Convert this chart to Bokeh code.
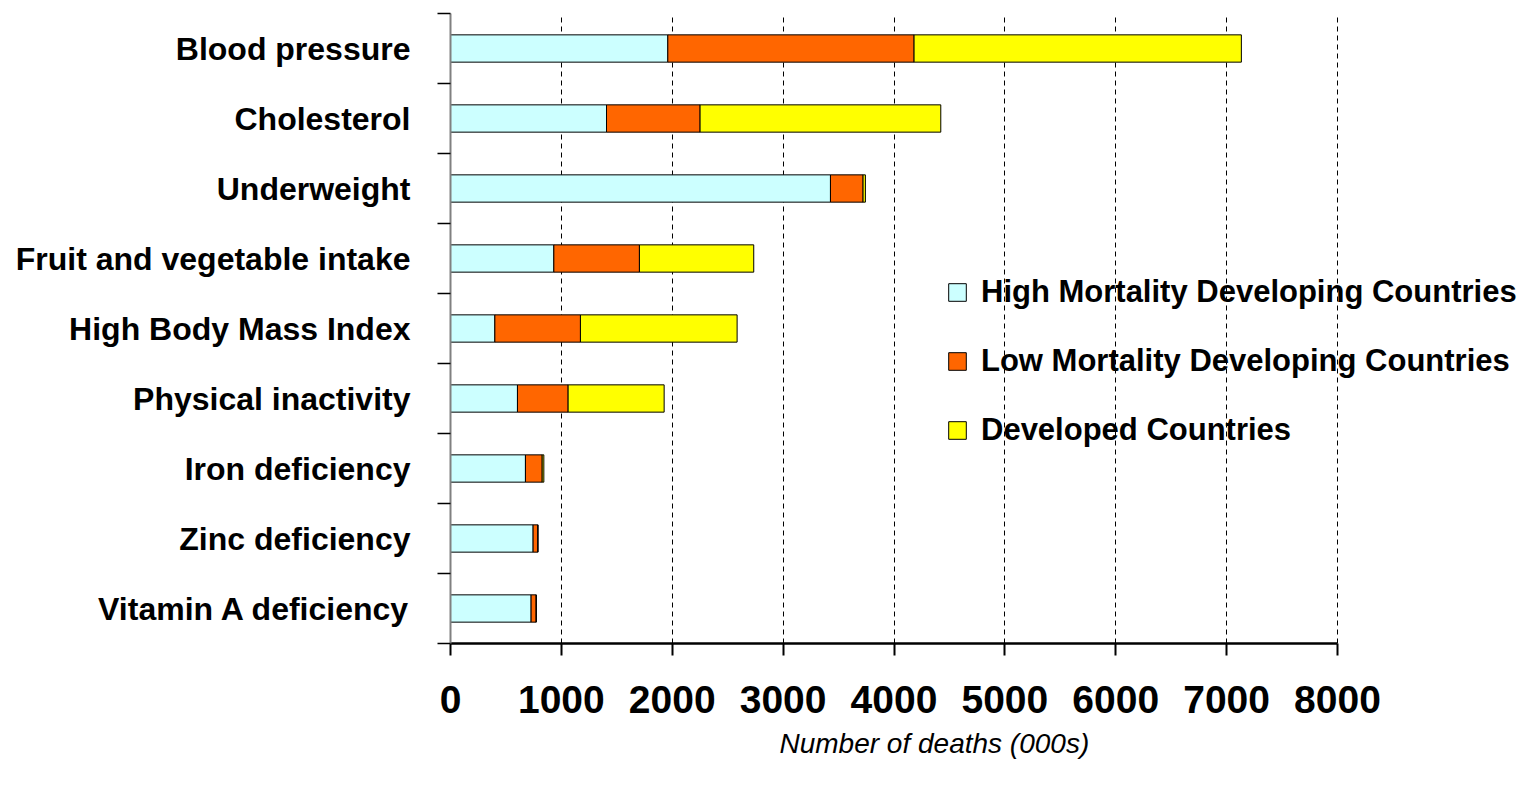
from bokeh.plotting import figure
from bokeh.models import ColumnDataSource, FixedTicker, Range1d, Legend, LegendItem, Title
from bokeh.embed import file_html
from bokeh.resources import INLINE

categories = ["Blood pressure", "Cholesterol", "Underweight", "Fruit and vegetable intake",
              "High Body Mass Index", "Physical inactivity", "Iron deficiency",
              "Zinc deficiency", "Vitamin A deficiency"]
high_mortality = [1960, 1407, 3427, 932, 400, 604, 676, 745, 727]
low_mortality = [2221, 844, 294, 772, 772, 457, 151, 43, 46]
developed = [2952, 2171, 21, 1031, 1413, 866, 15, 0, 0]
series_names = ["High Mortality Developing Countries", "Low Mortality Developing Countries",
                "Developed Countries"]
x_ticks = [0, 1000, 2000, 3000, 4000, 5000, 6000, 7000, 8000]
x_title = "Number of deaths (000s)"

colors = ["#CCFFFF", "#FF6600", "#FFFF00"]
FONT = "'Liberation Sans', Arial, sans-serif"

W, H = 1521, 771
LEFT, TOP = 450, 13
FRAME_BOTTOM = 643
BOTTOM = H - FRAME_BOTTOM
XMAX = 8000
px_per_unit = 887 / XMAX
x_end = (W - LEFT) / px_per_unit

n = len(categories)
ypos = [n - 0.5 - i for i in range(n)]
src = ColumnDataSource(dict(y=ypos, hm=high_mortality, lm=low_mortality, dev=developed))

p = figure(width=W, height=H, output_backend="svg", toolbar_location=None,
           x_range=Range1d(0, x_end), y_range=Range1d(0, n),
           min_border_left=LEFT, min_border_right=0, min_border_top=TOP,
           min_border_bottom=BOTTOM)
p.outline_line_color = None
p.background_fill_color = "white"
p.border_fill_color = "white"

rs = p.hbar_stack(["hm", "lm", "dev"], y="y", height=0.39, source=src,
                  fill_color=colors, line_color="black", line_width=1)

# grid
p.ygrid.grid_line_color = None
p.xgrid.ticker = FixedTicker(ticks=x_ticks)
p.xgrid.grid_line_color = "black"
p.xgrid.grid_line_dash = "5 4"
p.xgrid.grid_line_width = 1

# x axis
xa = p.xaxis[0]
xa.ticker = FixedTicker(ticks=x_ticks)
xa.bounds = (0, XMAX)
xa.axis_line_color = "black"
xa.axis_line_width = 2.5
xa.major_tick_line_color = "black"
xa.major_tick_line_width = 2
xa.major_tick_out = 12
xa.major_tick_in = 0
xa.minor_tick_line_color = None
xa.major_label_text_font = FONT
xa.major_label_text_font_style = "bold"
xa.major_label_text_font_size = "39px"
xa.major_label_text_color = "black"
xa.major_label_standoff = 30

# y axis
ya = p.yaxis[0]
ya.ticker = FixedTicker(ticks=ypos, minor_ticks=list(range(n + 1)))
ya.major_label_overrides = {y: c for y, c in zip(ypos, categories)}
ya.axis_line_color = "#808080"
ya.axis_line_width = 2
ya.major_tick_line_color = None
ya.major_tick_out = 0
ya.major_tick_in = 0
ya.minor_tick_line_color = "black"
ya.minor_tick_line_width = 1.5
ya.minor_tick_out = 13
ya.minor_tick_in = 0
ya.major_label_text_font = FONT
ya.major_label_text_font_style = "bold"
ya.major_label_text_font_size = "32px"
ya.major_label_text_color = "black"
ya.major_label_standoff = 27

# legend
legend = Legend(items=[LegendItem(label=nm, renderers=[r]) for nm, r in zip(series_names, rs)],
                location=(496, 193), orientation="vertical",
                glyph_width=22, glyph_height=22, label_standoff=13,
                label_text_font=FONT, label_text_font_style="bold",
                label_text_font_size="31px", label_text_color="black",
                label_height=40, spacing=29, padding=0, margin=0,
                border_line_color=None, background_fill_alpha=0)
p.add_layout(legend, "center")

title = Title(text=x_title, align="left", offset=329, text_font=FONT,
              text_font_style="italic", text_font_size="28px", text_color="black",
              standoff=20)
p.add_layout(title, "below")

open("out.html", "w").write(file_html(p, INLINE))
